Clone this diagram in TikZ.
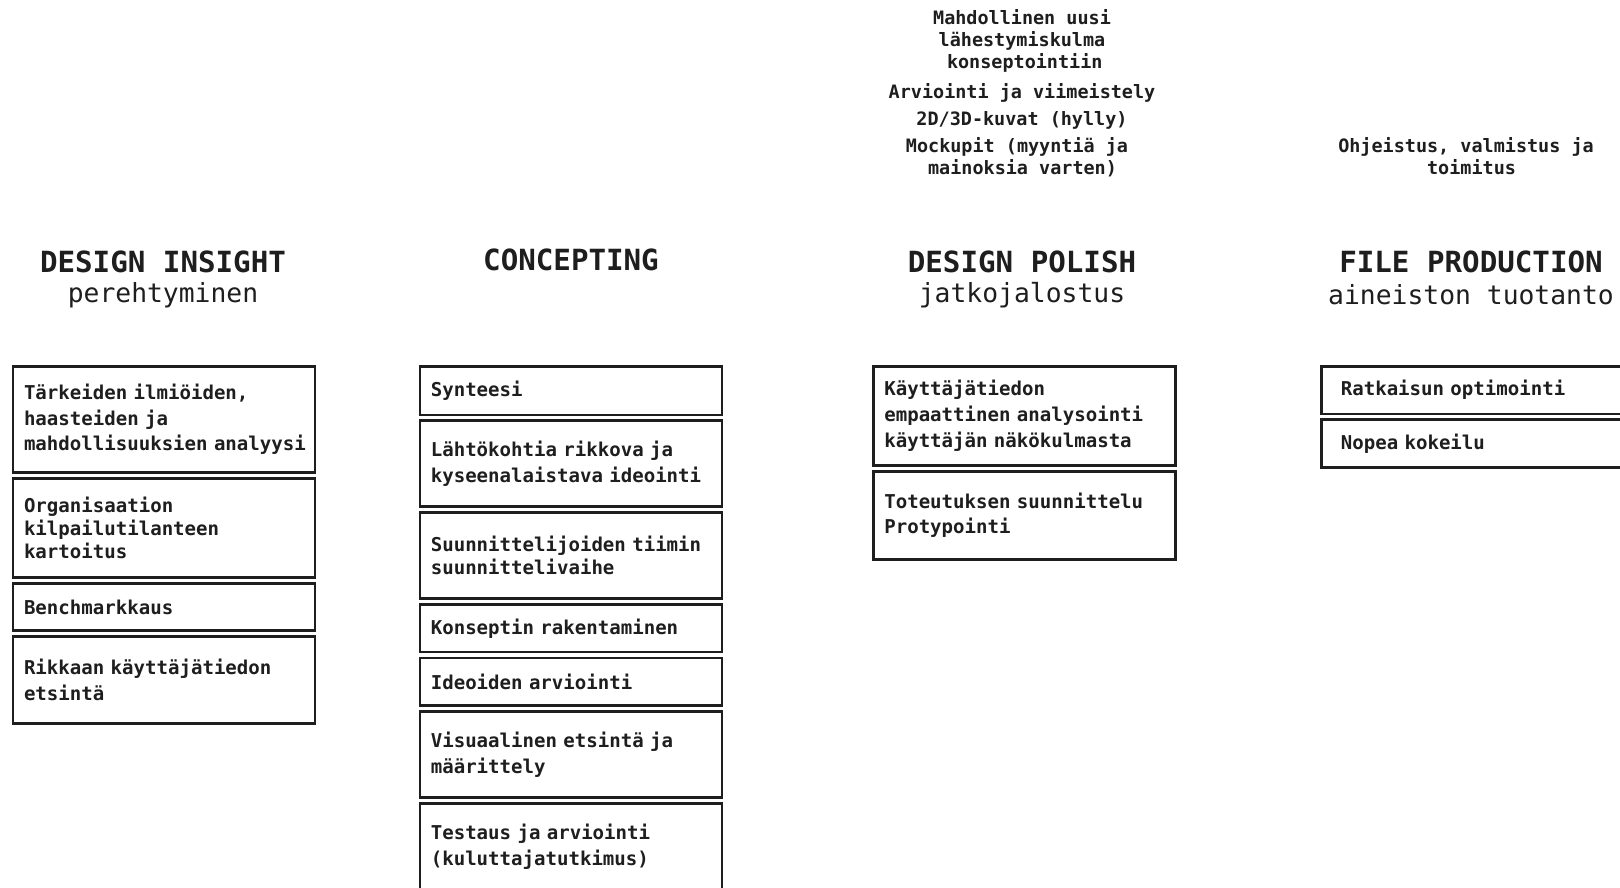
\documentclass[tikz,border=0pt]{standalone}
\usepackage{fontspec}
\setmonofont{DejaVu Sans Mono}
\usetikzlibrary{positioning}

\definecolor{ink}{HTML}{1E1E1E}
\newcommand{\monospc}{\spaceskip=0.602em\relax\xspaceskip=0.602em\relax}

\tikzset{
  phase/.style={text=ink, font=\ttfamily\bfseries\fontsize{16.6}{18}\selectfont\monospc},
  subphase/.style={text=ink, font=\ttfamily\fontsize{15}{17}\selectfont\monospc},
  note/.style={text=ink, align=center, font=\ttfamily\bfseries\fontsize{10.5}{12.5}\selectfont\monospc},
  task/.style={draw=ink, text=ink, line width=1.5pt, text width=5.6cm, inner xsep=0.22cm,
    align=left, minimum height=#1, font=\ttfamily\bfseries\fontsize{10.85}{14.7}\selectfont\monospc},
  task/.default=0.95cm,
  tight/.style={font=\ttfamily\bfseries\fontsize{10.85}{13}\selectfont\monospc},
  wide/.style={text width=5.26cm, inner xsep=0.39cm},
}

\begin{document}
\begin{tikzpicture}
    \useasboundingbox (0,0) rectangle (32.4,-17.74);

    % notes above the phases
    \node[note] (polishnote1) at (20.44,-0.81) {Mahdollinen uusi\\lähestymiskulma\\\hspace*{0.3em}konseptointiin};
    \node[note] (polishnote2) at (20.44,-1.86) {Arviointi ja viimeistely};
    \node[note] (polishnote3) at (20.44,-2.40) {2D/3D-kuvat (hylly)};
    \node[note] (polishnote4) at (20.34,-3.14) {Mockupit (myyntiä ja\\\hspace*{0.6em}mainoksia varten)};
    \node[note] (prodnote) at (29.32,-3.12) {Ohjeistus, valmistus ja\\\hspace*{0.6em}toimitus};

    % phase headings
    \node[phase] (insight) at (3.26,-5.24) {DESIGN INSIGHT};
    \node[subphase] (insightsub) at (3.26,-5.90) {perehtyminen};
    \node[phase] (concept) at (11.42,-5.20) {CONCEPTING};
    \node[phase] (polish) at (20.44,-5.24) {DESIGN POLISH};
    \node[subphase] (polishsub) at (20.44,-5.90) {jatkojalostus};
    \node[phase] (prod) at (29.42,-5.24) {FILE PRODUCTION};
    \node[subphase] (prodsub) at (29.42,-5.90) {aineiston tuotanto};

    % design insight
    \node[task=2.12cm, anchor=north west] (ins1) at (0.234,-7.30) {Tärkeiden ilmiöiden,\\haasteiden ja\\\mbox{mahdollisuuksien analyysi}};
    \node[task=1.98cm, tight, below=0.066cm of ins1] (ins2) {Organisaation\\kilpailutilanteen\\kartoitus};
    \node[task, below=0.066cm of ins2] (ins3) {Benchmarkkaus};
    \node[task=1.74cm, below=0.066cm of ins3] (ins4) {Rikkaan käyttäjätiedon\\etsintä};

    % concepting
    \node[task=0.97cm, anchor=north west] (con1) at (8.37,-7.30) {Synteesi};
    \node[task=1.72cm, below=0.066cm of con1] (con2) {Lähtökohtia rikkova ja\\kyseenalaistava ideointi};
    \node[task=1.72cm, tight, below=0.066cm of con2] (con3) {Suunnittelijoiden tiimin\\suunnittelivaihe};
    \node[task, below=0.066cm of con3] (con4) {Konseptin rakentaminen};
    \node[task, below=0.066cm of con4] (con5) {Ideoiden arviointi};
    \node[task=1.72cm, below=0.066cm of con5] (con6) {Visuaalinen etsintä ja\\määrittely};
    \node[task=1.74cm, below=0.066cm of con6] (con7) {Testaus ja arviointi\\(kuluttajatutkimus)};

    % design polish
    \node[task=1.98cm, anchor=north west] (pol1) at (17.44,-7.30) {Käyttäjätiedon\\empaattinen analysointi\\käyttäjän näkökulmasta};
    \node[task=1.76cm, below=0.066cm of pol1] (pol2) {Toteutuksen suunnittelu\\Protypointi};

    % file production
    \node[task, wide, anchor=north west] (pro1) at (26.4,-7.30) {Ratkaisun optimointi};
    \node[task=0.96cm, wide, below=0.066cm of pro1] (pro2) {Nopea kokeilu};
\end{tikzpicture}
\end{document}
